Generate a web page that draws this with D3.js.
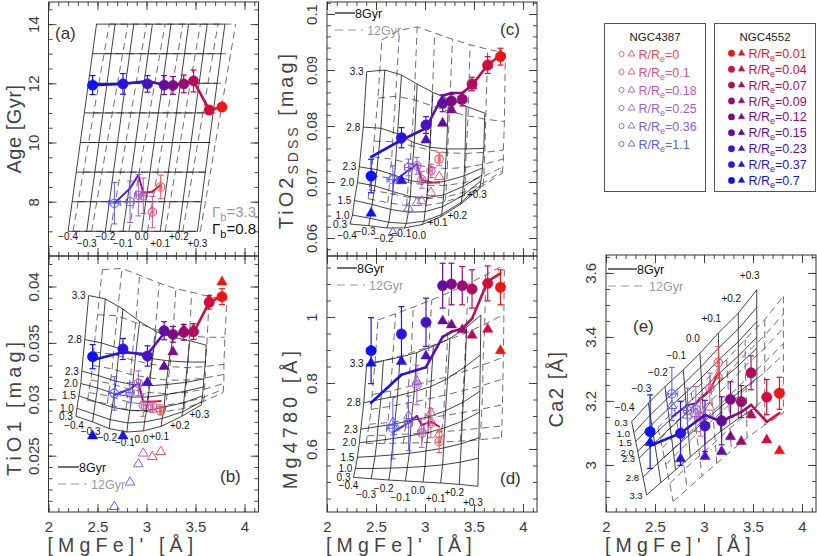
<!DOCTYPE html>
<html><head><meta charset="utf-8"><title>IMF gradients</title>
<script src="https://cdn.jsdelivr.net/npm/d3@7/dist/d3.min.js"></script>
<style>
html,body{margin:0;padding:0;background:#fff;}
svg{display:block;}
text{font-family:"Liberation Sans",Arial,Helvetica,sans-serif;}
</style></head><body>
<svg id="chart" width="817" height="556" viewBox="0 0 817 556"></svg>
<script>
// ================= DATA =================
// NGC4552 radial bins (R/Re ascending)
const radii4552 = ["0.01","0.04","0.07","0.09","0.12","0.15","0.23","0.37","0.7"];
const colors4552 = ["#ee1515","#d20c3e","#b40c5c","#960c72","#7c0c86","#620c9e","#4612c2","#2814de","#0c12f2"];
const mgfe4552 = [3.77,3.64,3.48,3.38,3.27,3.18,3.01,2.76,2.45];
const mgfeErr4552 = [0.01,0.01,0.01,0.01,0.01,0.01,0.015,0.02,0.04];
// NGC4387 radial bins
const radii4387 = ["0","0.1","0.18","0.25","0.36","1.1"];
const colors4387 = ["#f0505a","#d8508c","#bc58ae","#9c60cc","#7a62e2","#5a5cf2"];
const lineColors4387 = ["#f01828","#d0104c","#a81078","#8414a4","#5a1ccc","#3424ec"];
const mgfe4387 = [3.145,3.06,2.967,2.917,2.832,2.672];
const mgfeErr4387 = [0.01,0.015,0.02,0.02,0.04,0.06];

// (a) Age
const age4552 = [11.2,11.1,12.08,11.98,11.93,11.94,11.98,11.98,11.94];
const ageErr4552 = [0.05,0.05,0.37,0.3,0.3,0.32,0.28,0.35,0.32];
const ageLine4552 = [11.2,11.1,12.08,11.98,11.93,11.94,12.08,11.98,11.94];
const age4387 = [8.5,7.65,8.2,8.22,8.0,7.95];
const ageErr4387 = [0.4,0.53,0.6,0.7,0.7,0.7];
const ageLine4387 = [8.57,8.34,8.3,8.9,8.45,7.95];

// (b) TiO1
const tio1_4552 = [0.0391,0.0386,0.0360,0.03594,0.03576,0.03608,0.03384,0.03446,0.03378];
const tio1Err4552 = [0.0007,0.0006,0.0007,0.0007,0.0007,0.0008,0.0009,0.00093,0.00107];
const tio1Tri4552 = [0.0404,0.0388,0.0362,0.0362,0.0342,0.0329,0.0315,0.02675,0.02675];
const tio1Line4552 = [0.0391,0.0386,0.0359,0.03585,0.0357,0.03585,0.03399,0.03417,0.03348];
const tio1_4387 = [0.02899,0.02934,0.02949,0.03142,0.03059,0.03053];
const tio1Err4387 = [0.00035,0.0005,0.001,0.0011,0.0009,0.00148];
const tio1Tri4387 = [0.02535,0.02491,0.02521,0.02426,0.02264,0.02048];
const tio1Line4387 = [0.02985,0.02979,0.02979,0.03142,0.03091,0.03038];

// (c) TiO2_SDSS
const tio2_4552 = [0.09238,0.09089,0.0875,0.08477,0.08446,0.08405,0.08018,0.07791,0.07107];
const tio2Err4552 = [0.0015,0.0015,0.0012,0.0012,0.0012,0.0015,0.0015,0.0018,0.003];
const tio2Tri4552 = [0.09268,0.0909,0.08714,0.0848,0.08286,0.08048,0.0775,0.07023,0.06441];
const tio2Line4552 = [0.09268,0.0909,0.0873,0.0859,0.0859,0.0854,0.0796,0.0775,0.0745];
const tio2_4387 = [0.0741,0.0720,0.0704,0.0729,0.0726,0.0704];
const tio2Err4387 = [0.0012,0.0012,0.0015,0.0015,0.0015,0.0025];
const tio2Tri4387 = [0.07095,0.0681,0.0666,0.0663,0.0653,0.06095];
const tio2Line4387 = [0.0699,0.0699,0.07036,0.0732,0.0721,0.0700];

// (d) Mg4780
const mg_4552 = [1.09,1.102,1.085,1.095,1.10,1.095,0.984,0.9485,0.898];
const mgErr4552 = [0.053,0.053,0.058,0.058,0.063,0.068,0.073,0.083,0.1];
const mgTri4552 = [0.898,0.963,0.945,0.961,0.976,0.988,0.882,0.865,0.86];
const mgLine4552 = [1.132,1.108,0.995,0.965,0.955,0.94,0.848,0.825,0.74];
const mg_4387 = [0.622,0.678,0.648,0.794,0.678,0.663];
const mgErr4387 = [0.033,0.044,0.043,0.06,0.083,0.093];
const mgTri4387 = [0.645,0.71,0.66,0.805,0.70,0.68];
const mgLine4387 = [0.668,0.683,0.673,0.70,0.68,0.65];

// (e) Ca2
const ca_4552 = [3.224,3.212,3.288,3.198,3.205,3.138,3.122,3.099,3.104];
const caErr4552 = [0.05,0.055,0.053,0.05,0.055,0.075,0.08,0.1,0.115];
const caTri4552 = [3.044,3.078,3.156,3.073,3.088,3.042,3.026,3.019,3.07];
const caLine4552 = [3.162,3.135,3.1875,3.165,3.15,3.135,3.156,3.099,3.06];
const ca_4387 = [3.32,3.24,3.15,3.175,3.17,3.222];
const caErr4387 = [0.05,0.047,0.06,0.07,0.07,0.083];
const caTri4387 = [3.28,3.18,3.15,3.16,3.155,3.185];
const caLine4387 = [3.287,3.234,3.21,3.193,3.187,3.15];

// model grid labels
const imfLabels = ["0.3","1.0","1.5","2.0","2.3","2.8","3.3"];
const zhLabels = ["\u22120.4","\u22120.3","\u22120.2","\u22120.1","0.0","+0.1","+0.2","+0.3"];

// (a) age grid: metallicity columns (x at 7 Gyr and 14 Gyr), rows at ages
const ageGridAges = [7,8,9,10,11,12,13,14];
const ageGridSolidBot = [2.20,2.39,2.58,2.76,2.95,3.14,3.33,3.52];
const ageGridSolidTop = [2.49,2.68,2.87,3.06,3.25,3.43,3.62,3.80];
const ageGridDashBot = [2.25,2.44,2.63,2.82,3.01,3.19,3.37,3.55];
const ageGridDashTop = [2.62,2.81,3.00,3.19,3.37,3.55,3.73,3.91];

// (b) TiO1 grids (rows: IMF 0.3 ... 3.3; columns: [Z/H] -0.4 ... +0.3)
const tio1Grid8X = [
 [2.28,2.45,2.62,2.80,2.97,3.15,3.36,3.56],
 [2.29,2.46,2.63,2.81,2.98,3.16,3.37,3.565],
 [2.31,2.48,2.65,2.83,3.00,3.18,3.38,3.57],
 [2.33,2.50,2.67,2.85,3.02,3.19,3.39,3.58],
 [2.34,2.51,2.69,2.86,3.03,3.20,3.40,3.585],
 [2.37,2.54,2.72,2.89,3.06,3.23,3.42,3.60],
 [2.41,2.58,2.76,2.93,3.10,3.27,3.44,3.61]];
const tio1Grid8Y = [
 [0.0285,0.0280,0.0274,0.0271,0.0272,0.0276,0.0285,0.0295],
 [0.0292,0.0287,0.0282,0.0279,0.0280,0.0283,0.0289,0.0298],
 [0.0303,0.0298,0.0293,0.0290,0.0290,0.0293,0.0297,0.0303],
 [0.0314,0.0310,0.0305,0.0302,0.0302,0.0304,0.0307,0.0311],
 [0.0325,0.0321,0.0316,0.0313,0.0312,0.0313,0.0315,0.0318],
 [0.0353,0.0350,0.0345,0.0340,0.0336,0.0334,0.0333,0.0333],
 [0.0392,0.0389,0.0380,0.0369,0.0360,0.0355,0.0352,0.0348]];
const tio1Grid12X = [
 [2.40,2.60,2.79,2.99,3.19,3.39,3.58,3.78],
 [2.41,2.61,2.80,3.00,3.20,3.39,3.59,3.785],
 [2.43,2.63,2.82,3.02,3.21,3.40,3.59,3.79],
 [2.45,2.65,2.84,3.03,3.22,3.41,3.60,3.79],
 [2.46,2.66,2.85,3.05,3.24,3.42,3.60,3.79],
 [2.50,2.70,2.89,3.09,3.27,3.44,3.62,3.80],
 [2.55,2.75,2.93,3.13,3.30,3.46,3.64,3.82]];
const tio1Grid12Y = [
 [0.0299,0.0296,0.0291,0.0289,0.0289,0.0292,0.0298,0.0306],
 [0.0306,0.0303,0.0298,0.0295,0.0295,0.0297,0.0302,0.0309],
 [0.0317,0.0314,0.0309,0.0306,0.0305,0.0306,0.0309,0.0314],
 [0.0330,0.0327,0.0322,0.0319,0.0317,0.0317,0.0319,0.0322],
 [0.0342,0.0340,0.0335,0.0331,0.0329,0.0328,0.0329,0.0331],
 [0.0375,0.0374,0.0368,0.0362,0.0358,0.0356,0.0355,0.0355],
 [0.0415,0.0416,0.0410,0.0403,0.0398,0.0395,0.0391,0.0389]];

// (c) TiO2_SDSS grids
const tio2Grid8X = [
 [2.235,2.425,2.61,2.79,2.97,3.16,3.36,3.56],
 [2.26,2.44,2.63,2.81,2.99,3.17,3.37,3.565],
 [2.28,2.46,2.65,2.83,3.00,3.18,3.38,3.57],
 [2.31,2.49,2.67,2.85,3.02,3.19,3.39,3.58],
 [2.33,2.51,2.69,2.86,3.03,3.20,3.40,3.585],
 [2.37,2.55,2.72,2.89,3.05,3.22,3.41,3.60],
 [2.405,2.59,2.76,2.92,3.08,3.24,3.42,3.61]];
const tio2Grid8Y = [
 [0.0625,0.0622,0.0618,0.0618,0.0624,0.0638,0.0660,0.0688],
 [0.0641,0.0635,0.0628,0.0626,0.0630,0.0642,0.0664,0.0694],
 [0.0667,0.0660,0.0651,0.0646,0.0647,0.0656,0.0675,0.0702],
 [0.0699,0.0693,0.0683,0.0674,0.0672,0.0677,0.0692,0.0712],
 [0.0727,0.0722,0.0712,0.0702,0.0698,0.0701,0.0711,0.0725],
 [0.0798,0.0796,0.0786,0.0770,0.0762,0.0759,0.0759,0.0760],
 [0.0897,0.0900,0.0891,0.0875,0.0860,0.0848,0.0835,0.0823]];
const tio2Grid12X = [
 [2.42,2.62,2.81,3.01,3.20,3.40,3.59,3.79],
 [2.43,2.63,2.82,3.02,3.21,3.40,3.595,3.79],
 [2.45,2.64,2.83,3.03,3.22,3.41,3.60,3.795],
 [2.47,2.66,2.85,3.04,3.23,3.415,3.605,3.80],
 [2.48,2.67,2.86,3.05,3.23,3.42,3.61,3.80],
 [2.52,2.70,2.89,3.07,3.25,3.44,3.62,3.81],
 [2.56,2.74,2.92,3.10,3.28,3.46,3.64,3.82]];
const tio2Grid12Y = [
 [0.0670,0.0663,0.0658,0.0658,0.0664,0.0676,0.0693,0.0716],
 [0.0686,0.0680,0.0673,0.0670,0.0673,0.0682,0.0698,0.0720],
 [0.0712,0.0707,0.0699,0.0694,0.0694,0.0699,0.0710,0.0727],
 [0.0745,0.0741,0.0733,0.0726,0.0724,0.0726,0.0732,0.0741],
 [0.0773,0.0772,0.0765,0.0757,0.0752,0.0751,0.0753,0.0757],
 [0.0850,0.0853,0.0847,0.0836,0.0826,0.0818,0.0812,0.0808],
 [0.0954,0.0971,0.0977,0.0966,0.0955,0.0945,0.0937,0.0930]];

// (d) Mg4780 grids
const mgGrid8X = [
 [2.27,2.45,2.63,2.80,2.98,3.16,3.35,3.54],
 [2.29,2.47,2.65,2.82,3.00,3.18,3.36,3.545],
 [2.31,2.49,2.66,2.84,3.01,3.19,3.37,3.55],
 [2.33,2.51,2.68,2.85,3.03,3.20,3.38,3.555],
 [2.345,2.52,2.69,2.86,3.04,3.21,3.39,3.56],
 [2.375,2.55,2.72,2.89,3.06,3.23,3.41,3.565],
 [2.405,2.575,2.745,2.915,3.085,3.255,3.425,3.57]];
const mgGrid8Y = [
 [0.514,0.510,0.506,0.503,0.500,0.497,0.493,0.487],
 [0.541,0.541,0.542,0.544,0.547,0.552,0.560,0.572],
 [0.575,0.578,0.582,0.587,0.594,0.603,0.616,0.634],
 [0.619,0.625,0.632,0.640,0.650,0.664,0.684,0.712],
 [0.660,0.668,0.676,0.686,0.698,0.716,0.742,0.775],
 [0.740,0.751,0.761,0.774,0.789,0.814,0.849,0.885],
 [0.858,0.868,0.878,0.892,0.912,0.935,0.969,1.006]];
const mgGrid12X = [
 [2.40,2.59,2.78,2.97,3.16,3.36,3.56,3.78],
 [2.41,2.60,2.79,2.98,3.17,3.37,3.57,3.785],
 [2.43,2.62,2.81,3.00,3.19,3.38,3.58,3.79],
 [2.45,2.64,2.82,3.01,3.20,3.39,3.59,3.795],
 [2.46,2.65,2.83,3.02,3.21,3.40,3.59,3.80],
 [2.49,2.67,2.86,3.04,3.23,3.42,3.61,3.805],
 [2.52,2.70,2.88,3.07,3.25,3.44,3.62,3.81]];
const mgGrid12Y = [
 [0.617,0.617,0.618,0.619,0.621,0.624,0.628,0.635],
 [0.640,0.642,0.645,0.648,0.652,0.657,0.663,0.670],
 [0.675,0.680,0.686,0.693,0.701,0.710,0.721,0.734],
 [0.720,0.729,0.739,0.750,0.763,0.777,0.793,0.812],
 [0.765,0.776,0.789,0.803,0.818,0.835,0.855,0.878],
 [0.860,0.875,0.892,0.910,0.930,0.952,0.978,1.008],
 [0.991,1.010,1.030,1.052,1.075,1.100,1.128,1.158]];

// (e) Ca2 grids
const caGrid8X = [
 [2.262,2.432,2.602,2.789,2.959,3.146,3.350,3.538],
 [2.285,2.451,2.618,2.800,2.967,3.150,3.350,3.538],
 [2.303,2.467,2.631,2.808,2.973,3.152,3.350,3.539],
 [2.324,2.484,2.646,2.818,2.980,3.156,3.350,3.539],
 [2.338,2.496,2.656,2.824,2.984,3.158,3.350,3.539],
 [2.378,2.529,2.684,2.843,2.997,3.164,3.350,3.540],
 [2.415,2.560,2.710,2.860,3.010,3.170,3.350,3.540]];
const caGrid8Y = [
 [3.135,3.193,3.245,3.297,3.349,3.412,3.474,3.547],
 [3.101,3.156,3.206,3.256,3.306,3.366,3.425,3.492],
 [3.073,3.126,3.175,3.224,3.272,3.329,3.385,3.448],
 [3.042,3.092,3.139,3.187,3.234,3.287,3.340,3.399],
 [3.021,3.069,3.116,3.162,3.208,3.259,3.310,3.365],
 [2.962,3.006,3.049,3.092,3.135,3.180,3.226,3.271],
 [2.906,2.945,2.985,3.025,3.065,3.105,3.145,3.182]];
const caGrid12X = [
 [2.53,2.70,2.87,3.06,3.23,3.42,3.62,3.81],
 [2.555,2.72,2.89,3.07,3.24,3.42,3.62,3.81],
 [2.575,2.74,2.90,3.08,3.245,3.42,3.62,3.81],
 [2.595,2.755,2.915,3.09,3.25,3.425,3.62,3.81],
 [2.61,2.765,2.925,3.095,3.255,3.43,3.62,3.81],
 [2.65,2.80,2.955,3.115,3.265,3.435,3.62,3.81],
 [2.685,2.83,2.98,3.13,3.28,3.44,3.62,3.81]];
const caGrid12Y = [
 [3.115,3.173,3.225,3.277,3.329,3.392,3.454,3.527],
 [3.081,3.136,3.186,3.236,3.286,3.346,3.405,3.472],
 [3.053,3.106,3.155,3.204,3.252,3.309,3.365,3.428],
 [3.022,3.072,3.119,3.167,3.214,3.267,3.320,3.379],
 [3.001,3.049,3.096,3.142,3.188,3.239,3.290,3.345],
 [2.942,2.986,3.029,3.072,3.115,3.160,3.206,3.251],
 [2.886,2.925,2.965,3.005,3.045,3.085,3.125,3.162]];

// axis ticks
const xMajor = [2,2.5,3,3.5,4];
const xMajorLabels = ["2","2.5","3","3.5","4"];

// ================= DRAWING =================
const svg = d3.select('#chart');
const XW = 210, XPX = 98;
const xDomain = [2, 2 + XW / XPX];
const xMinor = d3.range(20, 42).map(v => v / 10);
const INK = '#333';

function ageGrid(bot, top) {
  const a0 = ageGridAges[0], a1 = ageGridAges[ageGridAges.length - 1];
  return {
    x: ageGridAges.map(a => bot.map((b, j) => b + (top[j] - b) * (a - a0) / (a1 - a0))),
    y: ageGridAges.map(a => bot.map(() => a))
  };
}

function axisTicks(g, fn, scale, tr, values, size) {
  const a = g.append('g').attr('transform', tr)
    .call(fn(scale).tickValues(values).tickSize(-size).tickFormat(''));
  a.select('.domain').remove();
  a.selectAll('line').attr('stroke', INK).attr('stroke-width', 0.9);
  return a;
}

function makePanel(o) {
  const g = svg.append('g');
  const x = d3.scaleLinear().domain(xDomain).range([o.left, o.left + XW]);
  const y = d3.scaleLinear().domain(o.yDomain).range([o.bottom, o.top]);
  const xl = o.left, xr = o.left + XW;
  g.append('rect').attr('x', xl).attr('y', o.top).attr('width', XW).attr('height', o.bottom - o.top)
    .attr('fill', 'none').attr('stroke', INK).attr('stroke-width', 1);
  axisTicks(g, d3.axisLeft, y, `translate(${xl},0)`, o.yMinor, 4);
  axisTicks(g, d3.axisRight, y, `translate(${xr},0)`, o.yMinor, 4);
  axisTicks(g, d3.axisBottom, x, `translate(0,${o.bottom})`, xMinor, 4);
  axisTicks(g, d3.axisTop, x, `translate(0,${o.top})`, xMinor, 4);
  axisTicks(g, d3.axisRight, y, `translate(${xr},0)`, o.yMajor, 8);
  axisTicks(g, d3.axisTop, x, `translate(0,${o.top})`, xMajor, 8);
  const la = g.append('g').attr('transform', `translate(${xl},0)`)
    .call(d3.axisLeft(y).tickValues(o.yMajor).tickSize(-8).tickFormat((d, i) => o.yLabels[i]));
  la.select('.domain').remove();
  la.attr('font-size', 15).attr('font-family', null).attr('color', INK);
  la.selectAll('line').attr('stroke', INK).attr('stroke-width', 0.9);
  la.selectAll('text').attr('x', null).attr('dy', null)
    .attr('transform', 'translate(-10,0) rotate(-90)').attr('text-anchor', 'middle')
    .attr('fill', '#3a3a3a');
  const ba = g.append('g').attr('transform', `translate(0,${o.bottom})`)
    .call(d3.axisBottom(x).tickValues(xMajor).tickSize(-8).tickFormat((d, i) => o.showX ? xMajorLabels[i] : ''));
  ba.select('.domain').remove();
  ba.attr('font-size', 15).attr('font-family', null).attr('color', INK);
  ba.selectAll('line').attr('stroke', INK).attr('stroke-width', 0.9);
  ba.selectAll('text').attr('dy', null).attr('y', 19.5).attr('fill', '#3a3a3a');
  if (o.showX) {
    g.append('text').attr('x', xl - 1).attr('y', 551.5).attr('font-size', 19.5)
      .attr('letter-spacing', 5.2).attr('fill', '#444').text("[MgFe]' [\u00C5]");
  }
  return { g, x, y };
}

function drawGrid(P, gx, gy, dashed) {
  const line = d3.line().x(d => P.x(d[0])).y(d => P.y(d[1]));
  const gg = P.g.append('g').attr('fill', 'none')
    .attr('stroke', dashed ? '#5c5c5c' : '#111')
    .attr('stroke-width', dashed ? 0.9 : 0.8)
    .attr('stroke-dasharray', dashed ? '7,4.5' : null);
  gx.forEach((row, i) => {
    gg.append('path').attr('d', line(row.map((v, j) => [v, gy[i][j]])));
  });
  for (let j = 0; j < gx[0].length; j++) {
    gg.append('path').attr('d', line(gx.map((row, i) => [row[j], gy[i][j]])));
  }
}

function gridLabels(P, gx, gy, zhRow, zdx, zdyEven, zdyOdd, imf) {
  const lg = P.g.append('g').attr('font-size', 10).attr('fill', '#111');
  if (imf) {
    gx.forEach((row, i) => {
      lg.append('text').attr('x', P.x(row[0]) - 3).attr('y', P.y(gy[i][0]) + 3.5)
        .attr('text-anchor', 'end').text(imfLabels[i]);
    });
  }
  gx[zhRow].forEach((v, j) => {
    lg.append('text').attr('x', P.x(v) + zdx)
      .attr('y', P.y(gy[zhRow][j]) + (j % 2 === 0 ? zdyEven : zdyOdd) + 3.5)
      .attr('text-anchor', 'middle').text(zhLabels[j]);
  });
}

function errBars(P, xs, ys, yerr, xerr, cols, w) {
  const g = P.g.append('g').attr('stroke-width', w).attr('fill', 'none');
  xs.forEach((xv, i) => {
    const cx = P.x(xv), cy = P.y(ys[i]);
    const y0 = P.y(ys[i] - yerr[i]), y1 = P.y(ys[i] + yerr[i]);
    g.append('line').attr('x1', cx).attr('x2', cx).attr('y1', y0).attr('y2', y1).attr('stroke', cols[i]);
    g.append('line').attr('x1', cx - 3).attr('x2', cx + 3).attr('y1', y0).attr('y2', y0).attr('stroke', cols[i]);
    g.append('line').attr('x1', cx - 3).attr('x2', cx + 3).attr('y1', y1).attr('y2', y1).attr('stroke', cols[i]);
    if (xerr) {
      const x0 = P.x(xv - xerr[i]), x1 = P.x(xv + xerr[i]);
      g.append('line').attr('x1', x0).attr('x2', x1).attr('y1', cy).attr('y2', cy).attr('stroke', cols[i]);
      g.append('line').attr('x1', x0).attr('x2', x0).attr('y1', cy - 3).attr('y2', cy + 3).attr('stroke', cols[i]);
      g.append('line').attr('x1', x1).attr('x2', x1).attr('y1', cy - 3).attr('y2', cy + 3).attr('stroke', cols[i]);
    }
  });
}

function segLine(P, xs, ys, cols, w) {
  const g = P.g.append('g');
  for (let i = 0; i < xs.length - 1; i++) {
    g.append('line').attr('x1', P.x(xs[i])).attr('y1', P.y(ys[i]))
      .attr('x2', P.x(xs[i + 1])).attr('y2', P.y(ys[i + 1]))
      .attr('stroke', d3.interpolateRgb(cols[i], cols[i + 1])(0.5))
      .attr('stroke-width', w).attr('stroke-linecap', 'round');
  }
}

const triFilled = d3.symbol().type(d3.symbolTriangle).size(46);
const triOpen = d3.symbol().type(d3.symbolTriangle).size(40);

function triangles(P, xs, ys, cols, open) {
  const g = P.g.append('g');
  xs.forEach((xv, i) => {
    g.append('path').attr('d', open ? triOpen() : triFilled())
      .attr('transform', `translate(${P.x(xv)},${P.y(ys[i])})`)
      .attr('fill', open ? 'none' : cols[i]).attr('stroke', cols[i])
      .attr('stroke-width', open ? 1 : 0.5);
  });
}

function circles(P, xs, ys, cols, open) {
  const g = P.g.append('g');
  xs.forEach((xv, i) => {
    g.append('circle').attr('cx', P.x(xv)).attr('cy', P.y(ys[i])).attr('r', open ? 4.2 : 5.2)
      .attr('fill', open ? 'none' : cols[i]).attr('stroke', cols[i]).attr('stroke-width', open ? 1.1 : 0.5);
  });
}

function galaxies(P, d) {
  if (d.tri4387) triangles(P, mgfe4387, d.tri4387, colors4387, true);
  segLine(P, mgfe4387, d.line4387, lineColors4387, 2);
  errBars(P, mgfe4387, d.v4387, d.err4387, mgfeErr4387, colors4387, 1);
  circles(P, mgfe4387, d.v4387, colors4387, true);
  segLine(P, mgfe4552, d.line4552, colors4552, 2.6);
  errBars(P, mgfe4552, d.v4552, d.err4552, mgfeErr4552, colors4552, 1.2);
  circles(P, mgfe4552, d.v4552, colors4552, false);
  if (d.tri4552) triangles(P, mgfe4552, d.tri4552, colors4552, false);
}

function yTitle(x, y, parts, ls) {
  const t = svg.append('text').attr('transform', `translate(${x},${y}) rotate(-90)`)
    .attr('text-anchor', 'middle').attr('font-size', 20).attr('fill', '#444').attr('letter-spacing', ls);
  parts.forEach(p => {
    const s = t.append('tspan').text(p.t);
    if (p.sub) s.attr('font-size', 14).attr('dy', 5);
    if (p.back) s.attr('dy', -5);
  });
}

function ageLegend(P, x, y, len) {
  const g = P.g.append('g').attr('font-size', 12.5);
  g.append('line').attr('x1', x).attr('x2', x + len).attr('y1', y).attr('y2', y).attr('stroke', '#111').attr('stroke-width', 1.2);
  g.append('text').attr('x', x + len).attr('y', y + 4.5).attr('fill', '#111').text('8Gyr');
  g.append('line').attr('x1', x).attr('x2', x + len + 8).attr('y1', y + 17).attr('y2', y + 17)
    .attr('stroke', '#999').attr('stroke-width', 1.2).attr('stroke-dasharray', '8,5');
  g.append('text').attr('x', x + len + 12).attr('y', y + 21.5).attr('fill', '#999').text('12Gyr');
}

function panelTag(P, x, y, s) {
  P.g.append('text').attr('x', x).attr('y', y).attr('font-size', 17).attr('fill', '#333').text(s);
}

// ---- panel (a)
const Pa = makePanel({ left: 48.5, top: 2, bottom: 256, yDomain: [6.166, 14.747],
  yMajor: [8, 10, 12, 14], yLabels: ["8", "10", "12", "14"], yMinor: d3.range(13, 30).map(v => v / 2), showX: false });
const agD = ageGrid(ageGridDashBot, ageGridDashTop);
const agS = ageGrid(ageGridSolidBot, ageGridSolidTop);
drawGrid(Pa, agD.x, agD.y, true);
drawGrid(Pa, agS.x, agS.y, false);
gridLabels(Pa, agS.x, agS.y, 0, 0, 5, 12, false);
galaxies(Pa, { v4552: age4552, err4552: ageErr4552, line4552: ageLine4552,
  v4387: age4387, err4387: ageErr4387, line4387: ageLine4387 });
panelTag(Pa, 55, 39, '(a)');
{
  const t1 = Pa.g.append('text').attr('x', 256).attr('y', 217).attr('text-anchor', 'end').attr('font-size', 15).attr('fill', '#999');
  t1.append('tspan').text('\u0393');
  t1.append('tspan').attr('font-size', 11).attr('dy', 4).text('b');
  t1.append('tspan').attr('dy', -4).text('=3.3');
  const t2 = Pa.g.append('text').attr('x', 256).attr('y', 234).attr('text-anchor', 'end').attr('font-size', 15).attr('fill', '#111');
  t2.append('tspan').text('\u0393');
  t2.append('tspan').attr('font-size', 11).attr('dy', 4).text('b');
  t2.append('tspan').attr('dy', -4).text('=0.8');
}

// ---- panel (b)
const Pb = makePanel({ left: 48.5, top: 256, bottom: 512, yDomain: [0.020009, 0.042704],
  yMajor: [0.025, 0.03, 0.035, 0.04], yLabels: ["0.025", "0.03", "0.035", "0.04"],
  yMinor: d3.range(21, 43).map(v => v / 1000), showX: true });
drawGrid(Pb, tio1Grid12X, tio1Grid12Y, true);
drawGrid(Pb, tio1Grid8X, tio1Grid8Y, false);
gridLabels(Pb, tio1Grid8X, tio1Grid8Y, 0, -2, 9, 10, true);
galaxies(Pb, { v4552: tio1_4552, err4552: tio1Err4552, line4552: tio1Line4552, tri4552: tio1Tri4552,
  v4387: tio1_4387, err4387: tio1Err4387, line4387: tio1Line4387, tri4387: tio1Tri4387 });
ageLegend(Pb, 58, 467, 21);
panelTag(Pb, 220, 482, '(b)');

// ---- panel (c)
const Pc = makePanel({ left: 327, top: 2, bottom: 256, yDomain: [0.056786, 0.102143],
  yMajor: [0.06, 0.07, 0.08, 0.09, 0.1], yLabels: ["0.06", "0.07", "0.08", "0.09", "0.1"],
  yMinor: d3.range(29, 52).map(v => v * 0.002), showX: false });
drawGrid(Pc, tio2Grid12X, tio2Grid12Y, true);
drawGrid(Pc, tio2Grid8X, tio2Grid8Y, false);
gridLabels(Pc, tio2Grid8X, tio2Grid8Y, 0, -3, 11, 6, true);
galaxies(Pc, { v4552: tio2_4552, err4552: tio2Err4552, line4552: tio2Line4552, tri4552: tio2Tri4552,
  v4387: tio2_4387, err4387: tio2Err4387, line4387: tio2Line4387, tri4387: tio2Tri4387 });
ageLegend(Pc, 335, 13, 20);
panelTag(Pc, 500, 35, '(c)');

// ---- panel (d)
const Pd = makePanel({ left: 327, top: 256, bottom: 512, yDomain: [0.40909, 1.18485],
  yMajor: [0.6, 0.8, 1.0], yLabels: ["0.6", "0.8", "1"],
  yMinor: d3.range(9, 24).map(v => v * 0.05), showX: true });
drawGrid(Pd, mgGrid12X, mgGrid12Y, true);
drawGrid(Pd, mgGrid8X, mgGrid8Y, false);
gridLabels(Pd, mgGrid8X, mgGrid8Y, 0, -5, 8.5, 16, true);
galaxies(Pd, { v4552: mg_4552, err4552: mgErr4552, line4552: mgLine4552, tri4552: mgTri4552,
  v4387: mg_4387, err4387: mgErr4387, line4387: mgLine4387, tri4387: mgTri4387 });
ageLegend(Pd, 337, 268, 20);
panelTag(Pd, 500, 484, '(d)');

// ---- panel (e)
const Pe = makePanel({ left: 606, top: 255, bottom: 512, yDomain: [2.853, 3.656],
  yMajor: [3, 3.2, 3.4, 3.6], yLabels: ["3", "3.2", "3.4", "3.6"],
  yMinor: d3.range(58, 74).map(v => v * 0.05), showX: true });
drawGrid(Pe, caGrid12X, caGrid12Y, true);
drawGrid(Pe, caGrid8X, caGrid8Y, false);
{
  const lg = Pe.g.append('g').attr('font-size', 9.5).attr('fill', '#111');
  caGrid8X.forEach((row, i) => {
    lg.append('text').attr('x', Pe.x(row[0]) - 4).attr('y', Pe.y(caGrid8Y[i][0]) + 4)
      .attr('text-anchor', 'end').text(imfLabels[i]);
  });
  caGrid8X[0].forEach((v, j) => {
    lg.append('text').attr('x', Pe.x(v) - 7).attr('y', Pe.y(caGrid8Y[0][j]) - 11)
      .attr('text-anchor', 'middle').attr('font-size', 10).text(zhLabels[j]);
  });
}
galaxies(Pe, { v4552: ca_4552, err4552: caErr4552, line4552: caLine4552, tri4552: caTri4552,
  v4387: ca_4387, err4387: caErr4387, line4387: caLine4387, tri4387: caTri4387 });
ageLegend(Pe, 608, 269, 29);
panelTag(Pe, 633, 332, '(e)');

// ---- axis titles
yTitle(21, 129, [{ t: 'Age [Gyr]' }], 0.5);
yTitle(21, 407, [{ t: 'TiO1 [mag]' }], 4);
yTitle(293, 140, [{ t: 'TiO2' }, { t: 'SDSS', sub: true }, { t: ' [mag]', back: true }], 3);
yTitle(297, 418, [{ t: 'Mg4780 [\u00C5]' }], 4);
yTitle(563, 389, [{ t: 'Ca2 [\u00C5]' }], 1.5);

// ---- galaxy legend boxes
{
  const lg = svg.append('g');
  lg.append('rect').attr('x', 604.5).attr('y', 23.5).attr('width', 101).attr('height', 168)
    .attr('fill', 'none').attr('stroke', '#555');
  lg.append('rect').attr('x', 714.5).attr('y', 23.5).attr('width', 101).attr('height', 168)
    .attr('fill', 'none').attr('stroke', '#555');
  lg.append('text').attr('x', 655).attr('y', 41).attr('text-anchor', 'middle').attr('font-size', 11.5).attr('fill', '#222').text('NGC4387');
  lg.append('text').attr('x', 765).attr('y', 41).attr('text-anchor', 'middle').attr('font-size', 11.5).attr('fill', '#222').text('NGC4552');
  const entry = (x, y, col, val, open) => {
    lg.append('circle').attr('cx', x).attr('cy', y).attr('r', open ? 2.6 : 3.2)
      .attr('fill', open ? 'none' : col).attr('stroke', col).attr('stroke-width', open ? 0.9 : 0.5);
    lg.append('path').attr('d', d3.symbol().type(d3.symbolTriangle).size(open ? 20 : 18)())
      .attr('transform', `translate(${x + 10},${y})`)
      .attr('fill', open ? 'none' : col).attr('stroke', col).attr('stroke-width', open ? 0.9 : 0.5);
    const t = lg.append('text').attr('x', x + 17).attr('y', y + 4.5).attr('font-size', 12.5).attr('fill', col);
    t.append('tspan').text('R/R');
    t.append('tspan').attr('font-size', 9).attr('dy', 3).text('e');
    t.append('tspan').attr('dy', -3).text('=' + val);
  };
  radii4387.forEach((r, i) => entry(621.5, 54 + i * 18, colors4387[i], r, true));
  radii4552.forEach((r, i) => entry(731.5, 53.3 + i * 15.9, colors4552[i], r, false));
}
</script>
</body></html>
